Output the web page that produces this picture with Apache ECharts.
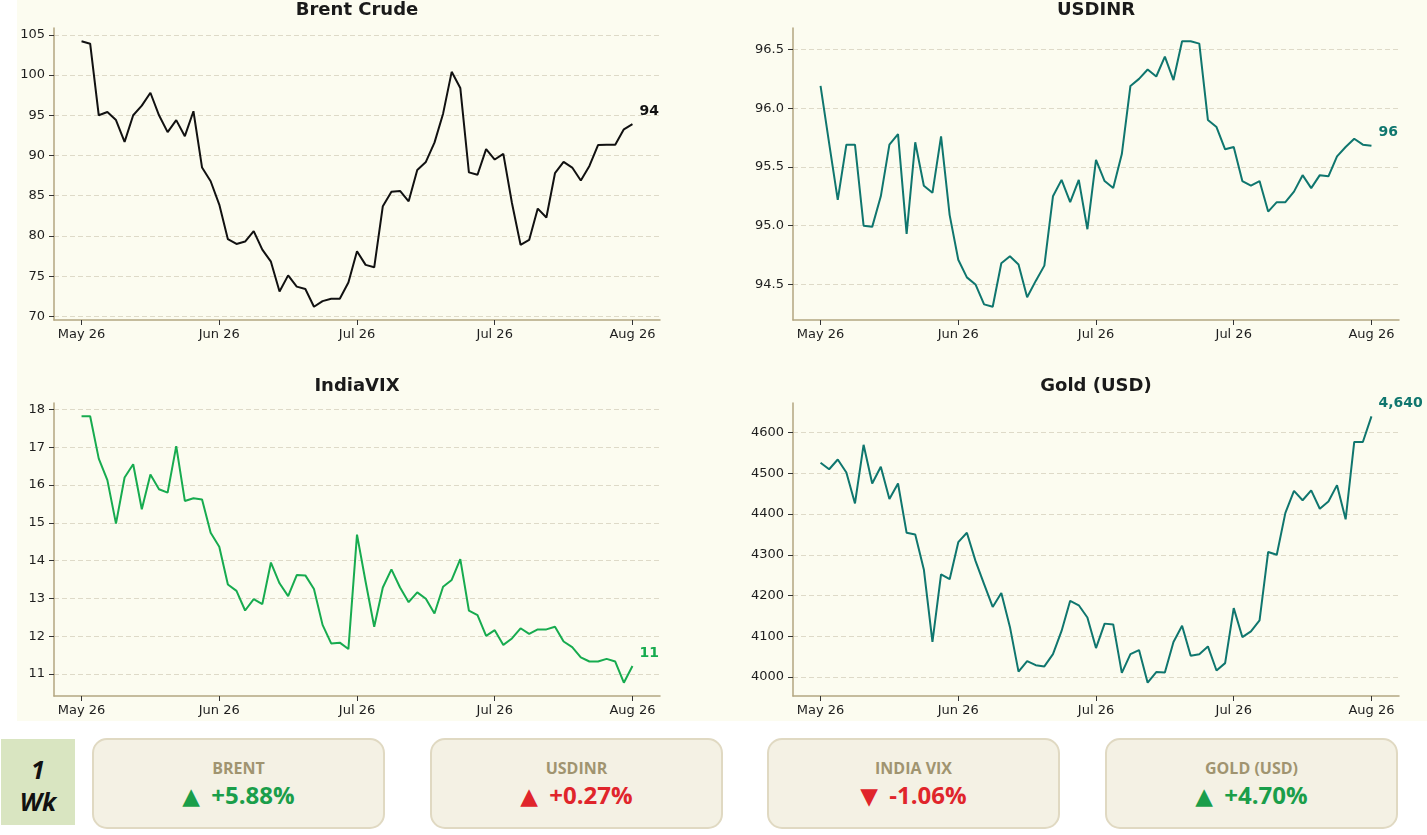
<!DOCTYPE html>
<html>
<head>
<meta charset="utf-8">
<script src="https://cdn.jsdelivr.net/npm/echarts@6/dist/echarts.min.js"></script>
<style>
  html, body { margin:0; padding:0; background:#ffffff; width:1427px; height:835px; overflow:hidden; }
  #bg { position:absolute; left:17px; top:0; width:1410px; height:721px; background:#fcfcf0; }
  #chart { position:absolute; left:0; top:0; width:1427px; height:721px; }
  #period { position:absolute; left:1px; top:739px; width:74px; height:86px; background:#d9e5c1;
            font-family:"Open Sans", sans-serif; font-weight:700; font-style:italic; font-size:25px; color:#111; text-align:center; }
  #period div { position:absolute; left:0; width:74px; height:32px; line-height:32px; }
  .card { position:absolute; top:738px; width:293px; height:91px; box-sizing:border-box; border:2px solid #e0d9c2;
          border-radius:15px; background:#f4f1e4; font-family:"Open Sans", sans-serif; text-align:center; }
  .card .t { position:absolute; left:0; right:0; top:18px; height:20px; line-height:20px; font-size:16px; font-weight:700; color:#a09470; }
  .card .v { position:absolute; left:0; right:0; top:40px; height:30px; line-height:30px; font-size:24px; font-weight:700; white-space:nowrap; }
  .card .v .tri { font-family:"DejaVu Sans", sans-serif; font-size:23px; font-weight:400; margin-right:5px; }
</style>
</head>
<body>
<div id="bg"></div>
<div id="chart"></div>
<div id="period"><div style="top:14px">1</div><div style="top:46px">Wk</div></div>
<div id="cards"></div>
<script>
// ---- data ----
const tickIdx = [0, 16, 32, 48, 64];
const tickLabels = ["May 26", "Jun 26", "Jul 26", "Jul 26", "Aug 26"];

const brent = [104.2,103.9,95.0,95.4,94.4,91.7,95.0,96.2,97.8,95.0,92.9,94.4,92.4,95.5,88.5,86.8,
  83.9,79.6,79.0,79.3,80.6,78.3,76.8,73.1,75.1,73.7,73.4,71.2,71.9,72.2,72.2,74.2,
  78.1,76.4,76.1,83.7,85.5,85.6,84.3,88.2,89.2,91.6,95.2,100.4,98.4,87.9,87.6,90.8,
  89.5,90.2,84.1,78.9,79.5,83.4,82.3,87.8,89.2,88.5,86.9,88.7,91.3,91.35,91.35,93.25,93.9];
const usdinr = [96.19,95.70,95.22,95.69,95.69,95.00,94.99,95.25,95.69,95.78,94.93,95.71,95.34,95.28,95.76,95.09,
  94.71,94.56,94.50,94.33,94.31,94.68,94.74,94.67,94.39,94.53,94.66,95.25,95.39,95.20,95.39,94.97,
  95.56,95.38,95.32,95.61,96.19,96.25,96.33,96.27,96.44,96.24,96.57,96.57,96.55,95.90,95.84,95.65,
  95.67,95.38,95.34,95.38,95.12,95.20,95.20,95.29,95.43,95.32,95.43,95.42,95.59,95.67,95.74,95.69,95.68];
const indiavix = [17.82,17.82,16.70,16.13,14.98,16.20,16.55,15.36,16.28,15.89,15.80,17.03,15.58,15.65,15.62,14.74,
  14.37,13.37,13.20,12.68,12.98,12.85,13.95,13.40,13.06,13.62,13.61,13.25,12.30,11.81,11.83,11.66,
  14.69,13.44,12.25,13.29,13.77,13.29,12.90,13.16,12.99,12.60,13.31,13.49,14.04,12.68,12.56,12.01,
  12.16,11.77,11.94,12.21,12.06,12.18,12.18,12.25,11.86,11.71,11.44,11.33,11.33,11.40,11.33,10.77,11.21];
const gold = [4526,4510,4534,4502,4426,4570,4475,4516,4437,4475,4354,4350,4264,4086,4252,4240,
  4331,4354,4285,4228,4172,4206,4123,4013,4039,4029,4026,4056,4113,4187,4176,4146,
  4071,4131,4129,4010,4056,4066,3986,4012,4011,4086,4126,4052,4056,4075,4016,4034,
  4169,4098,4112,4139,4307,4300,4403,4457,4434,4458,4413,4431,4471,4387,4577,4577,4640];

const brentTicks = [70, 75, 80, 85, 90, 95, 100, 105];
const usdinrTicks = [94.5, 95.0, 95.5, 96.0, 96.5];
const vixTicks = [11, 12, 13, 14, 15, 16, 17, 18];
const goldTicks = [4000, 4100, 4200, 4300, 4400, 4500, 4600];

const panelTitles = ["Brent Crude", "USDINR", "IndiaVIX", "Gold (USD)"];

const cardNames = ["BRENT", "USDINR", "INDIA VIX", "GOLD (USD)"];
const cardChanges = [5.88, 0.27, -1.06, 4.70];
const cardGood = [true, false, false, true];

// ---- build ----
const FONT = "DejaVu Sans";
const seriesData = [brent, usdinr, indiavix, gold];
const yTicks = [brentTicks, usdinrTicks, vixTicks, goldTicks];
const yFmt = [v => String(v), v => v.toFixed(1), v => String(v), v => String(v)];
const colors = ["#111111", "#0f766e", "#17ab4f", "#0f766e"];
const grids = [
  {left:54, top:28, width:606, height:292},
  {left:793, top:28, width:606, height:292},
  {left:54, top:403, width:606, height:293},
  {left:793, top:403, width:606, height:293}
];
function extent(arr) {
  const mn = Math.min(...arr), mx = Math.max(...arr), pad = (mx - mn) * 0.05;
  return [mn - pad, mx + pad];
}
const axisColor = "#b3a681";
const xAxes = [], yAxes = [], series = [], graphics = [];
seriesData.forEach((d, i) => {
  const ext = extent(d);
  xAxes.push({
    type:'value', gridIndex:i, min:-3.2, max:67.2,
    axisLine:{show:true, onZero:false, lineStyle:{color:axisColor, width:1.5}},
    axisTick:{show:true, customValues:tickIdx, length:5, lineStyle:{color:'#333', width:1}},
    axisLabel:{customValues:tickIdx, formatter:v => tickLabels[tickIdx.indexOf(v)], color:'#1e1e1e', fontSize:13, fontFamily:FONT, margin:8},
    splitLine:{show:false}
  });
  yAxes.push({
    type:'value', gridIndex:i, min:ext[0], max:ext[1],
    axisLine:{show:true, onZero:false, lineStyle:{color:axisColor, width:1.5}},
    axisTick:{show:true, customValues:yTicks[i], length:5, lineStyle:{color:'#333', width:1}},
    axisLabel:{customValues:yTicks[i], formatter:yFmt[i], color:'#1e1e1e', fontSize:13, fontFamily:FONT, margin:9},
    splitLine:{show:true, lineStyle:{type:[5,3], color:'#dedac8', width:1}}
  });
  series.push({
    type:'line', xAxisIndex:i, yAxisIndex:i, symbol:'none', silent:true,
    data:d.map((v, k) => [k, v]),
    lineStyle:{color:colors[i], width:2},
    endLabel:{show:true, formatter:p => Math.round(p.value[1]).toLocaleString('en-US'),
      color:colors[i], fontWeight:'bold', fontSize:14, fontFamily:FONT, distance:7, offset:[0,-13]}
  });
  graphics.push({
    type:'text', x:grids[i].left + grids[i].width / 2, y:(i < 2 ? 10 : 386),
    style:{text:panelTitles[i], fill:'#1a1a1a', font:'bold 18px "DejaVu Sans"', textAlign:'center', textVerticalAlign:'middle'}
  });
});

const chart = echarts.init(document.getElementById('chart'), null, {renderer:'canvas'});
chart.setOption({
  animation:false,
  backgroundColor:'transparent',
  grid:grids,
  xAxis:xAxes,
  yAxis:yAxes,
  series:series,
  graphic:graphics
});

// ---- cards ----
const cardLefts = [92, 430, 767, 1105];
const cardsEl = document.getElementById('cards');
cardNames.forEach((name, i) => {
  const c = cardChanges[i];
  const col = cardGood[i] ? '#1a9e4a' : '#e0252b';
  const tri = c >= 0 ? '\u25B2' : '\u25BC';
  const txt = (c >= 0 ? '+' : '') + c.toFixed(2) + '%';
  const div = document.createElement('div');
  div.className = 'card';
  div.style.left = cardLefts[i] + 'px';
  div.innerHTML = '<div class="t">' + name + '</div><div class="v" style="color:' + col + '"><span class="tri">' + tri + '</span> ' + txt + '</div>';
  cardsEl.appendChild(div);
});
</script>
</body>
</html>
